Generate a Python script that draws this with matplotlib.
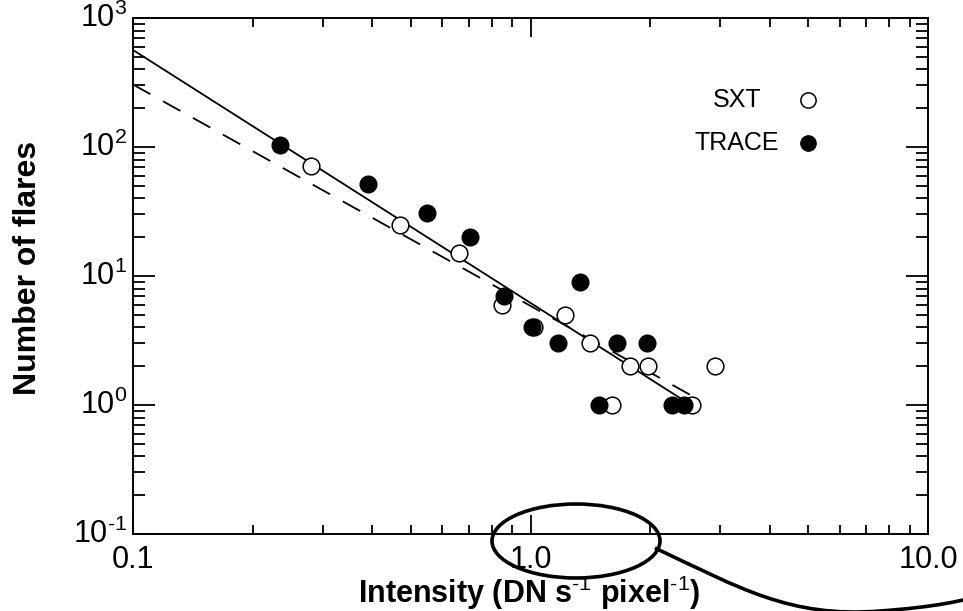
import numpy as np
import matplotlib
matplotlib.use("Agg")
import matplotlib.pyplot as plt
from matplotlib.patches import Ellipse, PathPatch
from matplotlib.path import Path
from matplotlib.ticker import LogLocator, NullFormatter

plt.rcParams['font.family'] = ['Liberation Sans', 'DejaVu Sans']
plt.rcParams['mathtext.fontset'] = 'custom'
plt.rcParams['mathtext.rm'] = 'Liberation Sans'
plt.rcParams['mathtext.it'] = 'Liberation Sans:italic'
plt.rcParams['mathtext.bf'] = 'Liberation Sans:bold'

# SXT flares (open circles)
sxt_intensity = [0.28, 0.47, 0.66, 0.85, 1.02, 1.22, 1.41, 1.60, 1.78, 1.98, 2.55, 2.91]
sxt_count = [71, 25, 15, 6, 4, 5, 3, 1, 2, 2, 1, 2]

# TRACE flares (filled circles)
trace_intensity = [0.235, 0.39, 0.55, 0.705, 0.86, 1.01, 1.17, 1.33, 1.49, 1.65, 1.96, 2.27, 2.43]
trace_count = [104, 52, 31, 20, 7, 4, 3, 9, 1, 3, 3, 1, 1]

# power-law fits (end points)
fit_solid_x = [0.1, 2.38]
fit_solid_y = [565, 1.13]
fit_dash_x = [0.1, 2.52]
fit_dash_y = [305, 1.2]

xticks = [0.1, 1.0, 10.0]
xtick_labels = ['0.1', '1.0', '10.0']
yticks = [0.1, 1, 10, 100, 1000]
ytick_labels = [r'10$^{\text{-1}}$', r'10$^{\text{0}}$', r'10$^{\text{1}}$',
                r'10$^{\text{2}}$', r'10$^{\text{3}}$']

fig = plt.figure(figsize=(9.63, 6.11), dpi=100)
ax = fig.add_axes([133 / 963, 1 - 534 / 611, 795 / 963, 516 / 611])

ax.plot(fit_solid_x, fit_solid_y, color='black', lw=1.3)
ax.plot(fit_dash_x, fit_dash_y, color='black', lw=1.3, linestyle=(0, (11, 8)))
ax.plot(sxt_intensity, sxt_count, 'o', ms=12, mfc='white', mec='black', mew=1.1, ls='none')
ax.plot(trace_intensity, trace_count, 'o', ms=12, mfc='black', mec='black', ls='none')

ax.set_xscale('log')
ax.set_yscale('log')
ax.set_xlim(0.1, 10)
ax.set_ylim(0.1, 1000)

ax.set_xticks(xticks)
ax.set_xticklabels(xtick_labels)
ax.xaxis.set_minor_locator(LogLocator(base=10, subs=np.arange(2, 10)))
ax.xaxis.set_minor_formatter(NullFormatter())
ax.set_yticks(yticks)
ax.set_yticklabels(ytick_labels)
ax.yaxis.set_minor_locator(LogLocator(base=10, subs=np.arange(2, 10), numticks=20))
ax.yaxis.set_minor_formatter(NullFormatter())

for s in ax.spines.values():
    s.set_linewidth(1.4)
ax.tick_params(axis='both', which='both', direction='in', top=True, right=True,
               width=1.3, labelsize=22)
ax.tick_params(axis='x', which='major', length=13.5, pad=8)
ax.tick_params(axis='x', which='minor', length=6.5)
ax.tick_params(axis='y', which='major', length=16, pad=4)
ax.tick_params(axis='y', which='minor', length=8.5)
for t in ax.yaxis.get_major_ticks():
    t.label1.set_va('center')

# axis titles placed in figure pixels
W, H = 963, 611
fig.text(529 / W, 1 - 603 / H, r'Intensity (DN s$^{\mathbf{\text{-1}}}$ pixel$^{\mathbf{\text{-1}}}$)',
         fontsize=22, fontweight='bold', ha='center', va='baseline')
fig.text(28 / W, 1 - 268 / H, 'Number of flares', fontsize=23, fontweight='bold',
         rotation=90, ha='center', va='center')

# legend
ax.text(0.760, 0.841, 'SXT', transform=ax.transAxes, ha='center', va='center', fontsize=18)
ax.text(0.760, 0.758, 'TRACE', transform=ax.transAxes, ha='center', va='center', fontsize=18)
ax.plot([0.849], [0.841], 'o', ms=11, mfc='white', mec='black', mew=1.1, transform=ax.transAxes)
ax.plot([0.849], [0.758], 'o', ms=11, mfc='black', mec='black', transform=ax.transAxes)

# hand-drawn oval and curve around the 1.0 region
ell = Ellipse((576 / W, 1 - 541 / H), 168 / W, 74 / H, transform=fig.transFigure,
              fill=False, ec='black', lw=2.6, clip_on=False)
fig.patches.append(ell)
pts = [(655, 548), (740, 588), (790, 618), (880, 611), (935, 607), (963, 601), (985, 594)]
codes = [Path.MOVETO, Path.CURVE4, Path.CURVE4, Path.CURVE4, Path.CURVE4, Path.CURVE4, Path.CURVE4]
verts = [(x / W, 1 - y / H) for x, y in pts]
curve = PathPatch(Path(verts, codes), transform=fig.transFigure, fill=False, ec='black',
                  lw=2.6, clip_on=False)
fig.patches.append(curve)

fig.savefig('out.png', dpi=100)
